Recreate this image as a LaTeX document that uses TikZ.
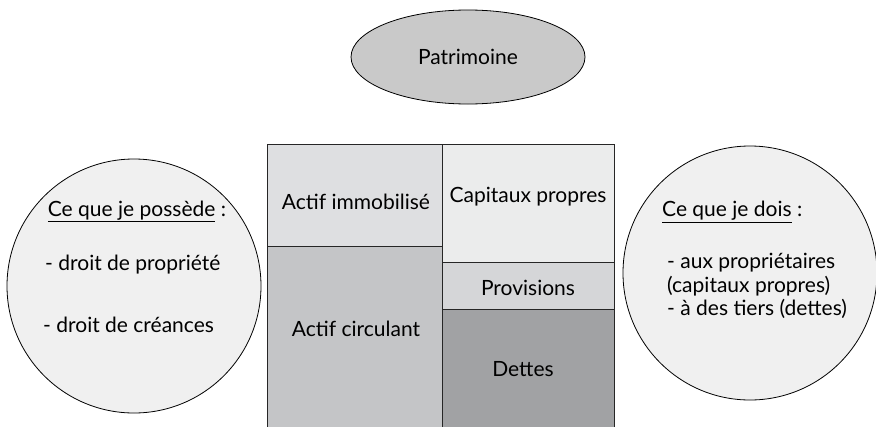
\documentclass[tikz,border=0pt]{standalone}
\usepackage{fontspec}
\setmainfont{Lato}
\definecolor{ovalgray}{HTML}{C9C9C9}
\definecolor{discgray}{HTML}{F0F0F0}
\definecolor{immogray}{HTML}{DEDFE1}
\definecolor{capgray}{HTML}{EBECEC}
\definecolor{provgray}{HTML}{D5D6D8}
\definecolor{circgray}{HTML}{C4C5C7}
\definecolor{dettegray}{HTML}{A1A2A4}
\tikzset{
  cell/.style={draw=black!85, line width=0.9pt},
  lbl/.style={font=\fontsize{21}{23.5}\selectfont, inner sep=0pt},
}
\begin{document}
\begin{tikzpicture}[x=1pt, y=-1pt]

    % fixes the size of the picture
    \useasboundingbox (0,0) rectangle (876,426);

    %top oval
    \draw[black, line width=0.8pt, fill=ovalgray] (468,57) ellipse (117 and 47);
    \node[lbl] (patri) at (468,57) {Patrimoine};

    %the two discs
    \begin{scope} [line width=0.8pt]
    \draw[fill=discgray] (134,286) circle (127);
    \draw[fill=discgray] (750,273) circle (127);
    \end{scope}

    %balance sheet
    \begin{scope}
    \filldraw[cell, fill=immogray] (267,144) rectangle (442,246);
    \filldraw[cell, fill=circgray] (267,246) rectangle (442,432);
    \filldraw[cell, fill=capgray] (442,144) rectangle (614,262);
    \filldraw[cell, fill=provgray] (442,262) rectangle (614,309);
    \filldraw[cell, fill=dettegray] (442,309) rectangle (614,432);
    \end{scope}

    \node[lbl] (actimmo) at (356,202) {Actif immobilisé};
    \node[lbl] (actcirc) at (356,329) {Actif circulant};
    \node[lbl] (cappro) at (528,197) {Capitaux propres};
    \node[lbl] (provis) at (528,288) {Provisions};
    \node[lbl] (dettes) at (523,369) {Dettes};

    %what I own
    \node[lbl, anchor=base] (possede) at (137,216) {\underline{Ce que je possède} :};
    \node[lbl, anchor=west] (droitprop) at (45,265) {- droit de propriété};
    \node[lbl, anchor=west] (droitcre) at (43,325) {- droit de créances};

    %what I owe
    \node[lbl, anchor=west] (dois) at (662,212) {\underline{Ce que je dois} :};
    \node[lbl, anchor=west, align=left] (proprio) at (667,286)
      {- aux propriétaires\\(capitaux propres)\\- à des tiers (dettes)};

\end{tikzpicture}
\end{document}
